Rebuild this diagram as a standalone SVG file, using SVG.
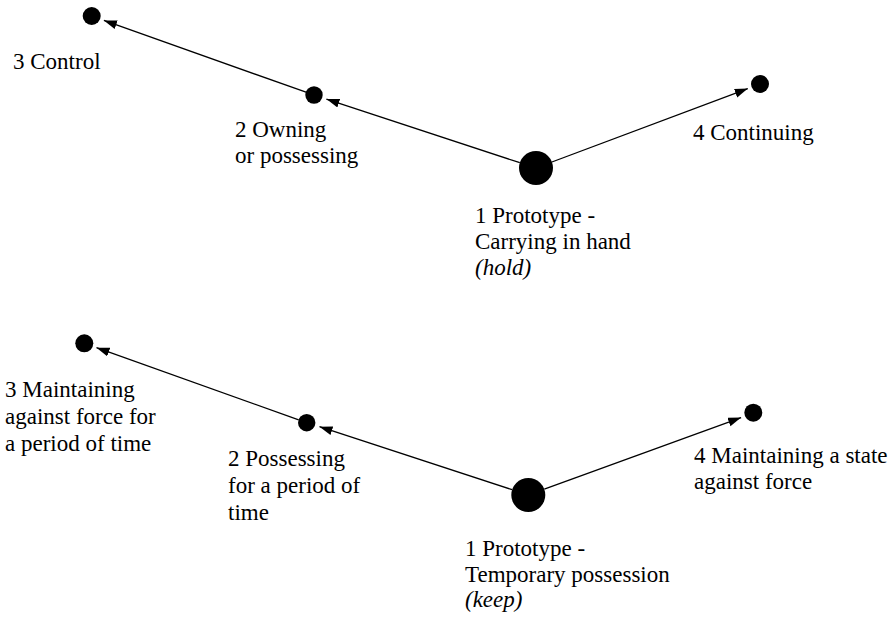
<svg xmlns="http://www.w3.org/2000/svg" width="888" height="617" viewBox="0 0 888 617">
  <style>
    .dot { fill: #000; }
    .lbl { font-family: 'Liberation Serif', 'Times New Roman', serif; font-size: 23px; fill: #000; }
    .it { font-style: italic; }
    .edge { stroke: #000; stroke-width: 1.3; fill: none; marker-end: url(#arrow); }
  </style>
  <defs>
    <marker id="arrow" markerUnits="userSpaceOnUse" markerWidth="14" markerHeight="10" refX="13" refY="4.5" orient="auto">
      <path d="M0,0 L13,4.5 L0,9 z" fill="#000"/>
    </marker>
  </defs>
  <rect width="888" height="617" fill="#fff"/>

  <!-- connectors -->
  <g id="connectors">
    <line class="edge" x1="519.8" y1="162.7" x2="326.4" y2="99.1"/>
    <line class="edge" x1="306" y1="92.2" x2="103.9" y2="20.4"/>
    <line class="edge" x1="551.9" y1="162" x2="747.8" y2="88.6"/>
    <line class="edge" x1="512.1" y1="489.7" x2="319.5" y2="426.7"/>
    <line class="edge" x1="298.7" y1="419.8" x2="96.5" y2="347.7"/>
    <line class="edge" x1="544.3" y1="489.2" x2="741.1" y2="417.6"/>
  </g>

  <!-- hold -->
  <g id="hold-1">
    <circle class="dot" cx="536" cy="168" r="17"/>
    <text class="lbl" x="475" y="223">1 Prototype -</text>
    <text class="lbl" x="475" y="249">Carrying in hand</text>
    <text class="lbl it" x="475" y="275">(hold)</text>
  </g>
  <g id="hold-2">
    <circle class="dot" cx="314" cy="95" r="8.7"/>
    <text class="lbl" x="235" y="137">2 Owning</text>
    <text class="lbl" x="235" y="163">or possessing</text>
  </g>
  <g id="hold-3">
    <circle class="dot" cx="91.7" cy="16" r="9"/>
    <text class="lbl" x="13" y="69">3 Control</text>
  </g>
  <g id="hold-4">
    <circle class="dot" cx="760" cy="84" r="9"/>
    <text class="lbl" x="693" y="140">4 Continuing</text>
  </g>

  <!-- keep -->
  <g id="keep-1">
    <circle class="dot" cx="528.3" cy="495" r="17"/>
    <text class="lbl" x="465" y="556">1 Prototype -</text>
    <text class="lbl" x="465" y="582">Temporary possession</text>
    <text class="lbl it" x="465" y="607">(keep)</text>
  </g>
  <g id="keep-2">
    <circle class="dot" cx="306.7" cy="422.7" r="8.7"/>
    <text class="lbl" x="228" y="466">2 Possessing</text>
    <text class="lbl" x="228" y="493">for a period of</text>
    <text class="lbl" x="228" y="520">time</text>
  </g>
  <g id="keep-3">
    <circle class="dot" cx="84.3" cy="343.3" r="9"/>
    <text class="lbl" x="5" y="397">3 Maintaining</text>
    <text class="lbl" x="5" y="424">against force for</text>
    <text class="lbl" x="5" y="451">a period of time</text>
  </g>
  <g id="keep-4">
    <circle class="dot" cx="753.3" cy="412.7" r="9"/>
    <text class="lbl" x="694" y="463">4 Maintaining a state</text>
    <text class="lbl" x="694" y="489">against force</text>
  </g>
</svg>
